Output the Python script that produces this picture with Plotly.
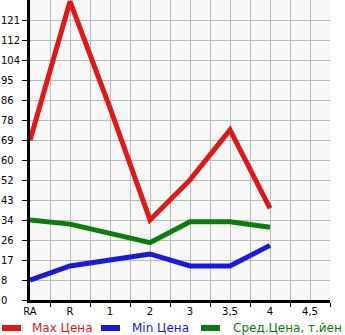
import plotly.graph_objects as go

categories = ["RA", "R", "1", "2", "3", "3,5", "4", "4,5"]
max_price = [69.0, 129.0, 83.0, 34.6, 51.9, 73.5, 39.6]
min_price = [8.6, 14.7, 17.3, 19.9, 14.7, 14.7, 23.6]
avg_price = [34.6, 32.8, 28.8, 24.8, 33.8, 33.8, 31.4]
y_tick_labels = ["0", "8", "17", "26", "34", "43", "52", "60", "69", "78", "86", "95", "104", "112", "121"]
y_step = 121 / 14

series = [
    ("Max Цена", max_price, "#dd1a1a"),
    ("Min Цена", min_price, "#1a1adc"),
    ("Сред.Цена, т.йен", avg_price, "#0a7d0a"),
]

W, H = 345, 335
L, R, T, B = 30, 15, 0, 35
PW, PH = W - L - R, H - T - B


def px_x(p):
    return (p - L) / PW


def px_y(p):
    return (H - B - p) / PH


fig = go.Figure()
for name, vals, color in series:
    fig.add_trace(go.Scatter(
        x=list(range(len(vals))), y=vals, mode="lines",
        line=dict(color=color, width=5),
        name=name, showlegend=False,
    ))

# manual legend (one row, like the reference)
legend_pos = [(0, 30), (99, 130), (199, 231)]
ly = 328
for (name, _, color), (sx, tx) in zip(series, legend_pos):
    fig.add_shape(type="line", xref="paper", yref="paper",
                  x0=px_x(sx + 2), x1=px_x(sx + 21), y0=px_y(ly), y1=px_y(ly),
                  line=dict(color=color, width=6))
    fig.add_annotation(xref="paper", yref="paper", x=px_x(tx), y=px_y(ly),
                       xanchor="left", yanchor="middle", showarrow=False,
                       text=name, font=dict(size=12, color=color))

pad = "\u2007"
fig.update_layout(
    width=W, height=H,
    margin=dict(l=L, r=R, t=T, b=B),
    paper_bgcolor="white", plot_bgcolor="#f7f7f7",
    font=dict(family="DejaVu Sans", size=10, color="black"),
    showlegend=False,
    xaxis=dict(
        range=[0, 7.5], tickvals=list(range(len(categories))), ticktext=categories,
        showgrid=True, gridcolor="#bbbbbb", gridwidth=1, ticks="",
        showline=True, linecolor="black", linewidth=3, zeroline=False,
        minor=dict(tickvals=[i + 0.5 for i in range(len(categories))], ticks="outside",
                   ticklen=4, tickcolor="black", showgrid=True, gridcolor="#bbbbbb", gridwidth=1),
        fixedrange=True,
    ),
    yaxis=dict(
        range=[0, 15 * y_step],
        tickvals=[i * y_step for i in range(len(y_tick_labels))],
        ticktext=[t + pad * (3 - len(t)) for t in y_tick_labels],
        showgrid=True, gridcolor="#bbbbbb", gridwidth=1,
        ticks="outside", ticklen=5, tickcolor="black",
        showline=True, linecolor="black", linewidth=3, zeroline=False,
        fixedrange=True,
    ),
)

fig.write_html("out.html", config={"displayModeBar": False})
